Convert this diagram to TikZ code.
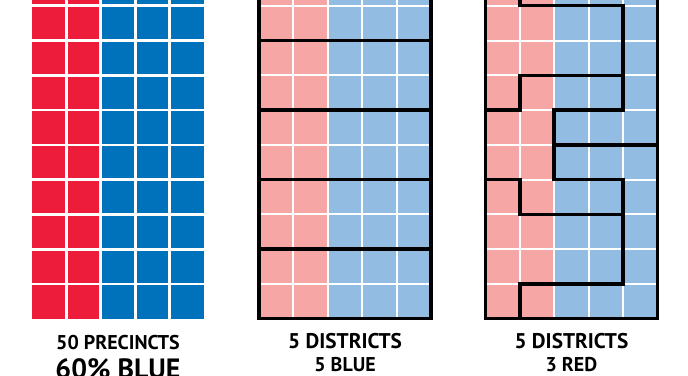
\documentclass[tikz,border=0pt]{standalone}
\usepackage{fontspec}
\setmainfont{PT Sans}
\definecolor{redfull}{RGB}{237,28,58}
\definecolor{bluefull}{RGB}{0,114,188}
\definecolor{redpale}{RGB}{246,166,165}
\definecolor{bluepale}{RGB}{147,188,227}
\tikzset{cellgap/.style = {white, line width = 1.5pt}}
\tikzset{district/.style = {black, line width = 2.6pt, line cap = rect, line join = miter}}
\tikzset{caption/.style = {font = \bfseries, inner sep = 0, anchor = base}}

\begin{document}
\begin{tikzpicture}[x = 0.91cm, y = 0.92cm]
    \useasboundingbox (0, -1.626) rectangle (20, 9.165);
    \clip (0, -1.626) rectangle (20, 9.165);
    \fill [white] (0, -1.626) rectangle (20, 9.165);

    % 50 precincts
    \fill [redfull] (0.93, 0) rectangle (2.93, 10);
    \fill [bluefull] (2.93, 0) rectangle (5.93, 10);
    \foreach \i in {1, ..., 4}
        \draw [cellgap, line width = 2pt] (0.93 + \i, 0) -- +(0, 10);
    \foreach \j in {1, ..., 9}
        \draw [cellgap, line width = 2pt] (0.93, \j) -- +(5, 0);

    % 5 districts, all blue
    \fill [redpale] (7.53, 0) rectangle (9.53, 10);
    \fill [bluepale] (9.53, 0) rectangle (12.53, 10);
    \foreach \i in {1, ..., 4}
        \draw [cellgap] (7.53 + \i, 0) -- +(0, 10);
    \foreach \j in {1, ..., 9}
        \draw [cellgap] (7.53, \j) -- +(5, 0);
    \draw [district] (7.53, 0) rectangle (12.53, 10);
    \foreach \j in {2, 4, 6, 8}
        \draw [district] (7.53, \j) -- +(5, 0);

    % 5 districts, 3 red
    \begin{scope}[shift = {(14.11, 0)}]
        \fill [redpale] (0, 0) rectangle (2, 10);
        \fill [bluepale] (2, 0) rectangle (5, 10);
        \foreach \i in {1, ..., 4}
            \draw [cellgap] (\i, 0) -- +(0, 10);
        \foreach \j in {1, ..., 9}
            \draw [cellgap] (0, \j) -- +(5, 0);
        \draw [district] (0, 0) rectangle (5, 10);
        \draw [district] (1, 10) -- (1, 9) -- (4, 9) -- (4, 6) -- (2, 6) -- (2, 4)
            -- (4, 4) -- (4, 1) -- (1, 1) -- (1, 0);
        \draw [district] (0, 6) -- (1, 6) -- (1, 7) -- (4, 7);
        \draw [district] (2, 5) -- (5, 5);
        \draw [district] (0, 4) -- (1, 4) -- (1, 3) -- (4, 3);
    \end{scope}

    \node (prec) [caption, font = \bfseries\fontsize{15}{15}\selectfont] at (3.43, -0.878) {50 PRECINCTS};
    \node (share) [caption, font = \bfseries\fontsize{21}{21}\selectfont] at (3.43, -1.712) {60\% BLUE};
    \node (distA) [caption, font = \bfseries\fontsize{16}{16}\selectfont] at (10.03, -0.849) {5 DISTRICTS};
    \node (blueA) [caption, font = \bfseries\fontsize{15}{15}\selectfont] at (10.03, -1.511) {5 BLUE};
    \node (distB) [caption, font = \bfseries\fontsize{16}{16}\selectfont] at (16.61, -0.849) {5 DISTRICTS};
    \node (redB) [caption, font = \bfseries\fontsize{15}{15}\selectfont] at (16.61, -1.511) {3 RED};
\end{tikzpicture}
\end{document}
